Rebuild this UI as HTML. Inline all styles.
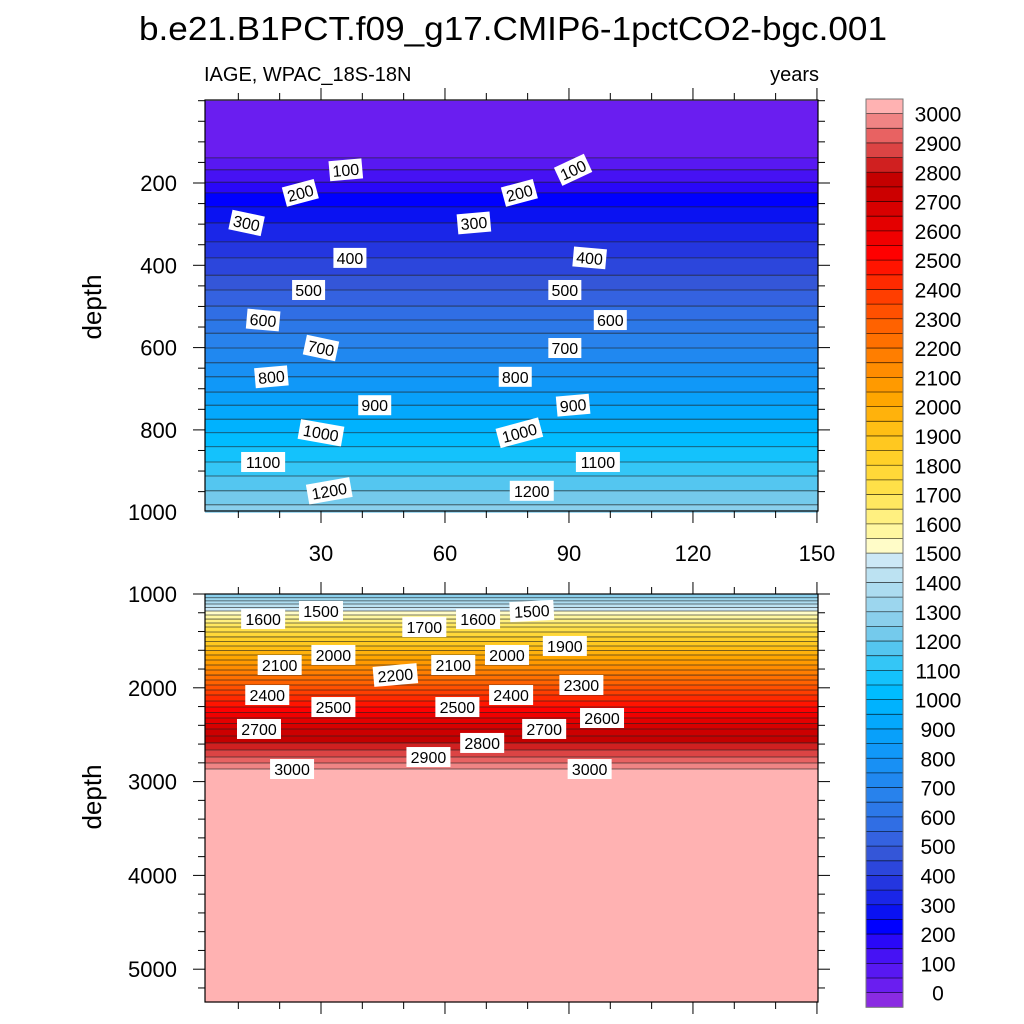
<!DOCTYPE html>
<html><head><meta charset="utf-8"><style>
html,body{margin:0;padding:0;background:#fff;}
svg{display:block;font-family:"Liberation Sans",sans-serif;}
</style></head><body>
<svg id="chart" width="1024" height="1024" viewBox="0 0 1024 1024" xmlns="http://www.w3.org/2000/svg">
<text x="513" y="40" font-size="33" text-anchor="middle" textLength="748" lengthAdjust="spacingAndGlyphs">b.e21.B1PCT.f09_g17.CMIP6-1pctCO2-bgc.001</text>
<text x="204" y="81" font-size="20">IAGE, WPAC_18S-18N</text>
<text x="819" y="81" font-size="20" text-anchor="end">years</text>
<text transform="translate(101,307) rotate(-90)" font-size="26" text-anchor="middle">depth</text>
<text transform="translate(101,797) rotate(-90)" font-size="26" text-anchor="middle">depth</text>
<g id="top"></g>
<g id="bot"></g>
<g id="cbar"></g>
</svg>
<script>
// ---- data ----
const profileDepths = [0,139,168,198,224,258,297,343,382,424,460,499,533,565,601,637,671,708,740,774,807,841,878,912,948,982,1040,1107,1181,1267,1352,1458,1554,1650,1757,1864,1970,2077,2205,2322,2439,2588,2738,2866,5400];
const profileAges   = [20,50,100,150,200,250,300,350,400,450,500,550,600,650,700,750,800,850,900,950,1000,1050,1100,1150,1200,1250,1300,1400,1500,1600,1700,1800,1900,2000,2100,2200,2300,2400,2500,2600,2700,2800,2900,3000,3040];
const levelColors = ["#8a2be2","#6a1ef0","#5818f2","#4612f4","#2a08f8","#0000ff","#0a12f2","#1a26e8","#2436e0","#2c46dc","#3456d8","#3462e0","#306ee4","#2c78e8","#2882ec","#2088f0","#1890f4","#1098f8","#08a0fa","#04a8fc","#00b2fe","#00bcff","#14c2fc","#34c6f6","#54c6f0","#74caec","#8acfec","#9cd6ee","#acdcf0","#bce2f2","#cce8f6","#fffcc8","#fff7a0","#fff080","#ffe860","#ffe048","#ffd838","#ffd028","#ffc820","#ffbe14","#ffb20c","#ffa600","#ff9a00","#ff8c00","#ff7e00","#ff7000","#ff6200","#ff5000","#ff3e00","#ff2a00","#ff1400","#ff0000","#f00000","#e40000","#d80000","#cc0000","#c40000","#d02020","#dc4444","#e86262","#f08484","#ffb2b2"];
const labelValues = [100,200,300,300,200,100,400,400,500,500,600,600,700,700,800,800,900,900,1000,1000,1100,1100,1200,1200,
  1500,1500,1600,1600,1700,1900,2000,2000,2100,2100,2200,2300,2400,2400,2500,2500,2600,2700,2700,2800,2900,3000,3000];
const labelYears = [36,25,12,67,78,91,37,95,27,89,16,100,30,89,18,77,43,91,30,78,16,97,32,81,
  30,81,16,68,55,89,33,75,20,62,48,93,17,76,33,63,98,15,84,69,56,23,95];
const labelAngles = [-5,-15,12,-5,-15,-25,0,5,0,0,5,0,12,0,-5,0,0,-5,10,-15,0,0,-10,0,
  0,-3,0,0,0,0,0,0,0,0,-5,0,0,0,0,0,0,0,0,0,0,0,0];
const xTicksMajor = [30,60,90,120,150];
const topYTicks = [200,400,600,800,1000];
const botYTicks = [1000,2000,3000,4000,5000];

// ---- scales ----
const X0=205,X1=818;
const xS = yr => 197 + 4.133*yr;
const panels = [
  {g:'top', y0:100, y1:511, d0:0, d1:1000, yS:d=>100.7+0.4115*d, ticks:topYTicks, minor:50},
  {g:'bot', y0:594, y1:1002, d0:1000, d1:5350, yS:d=>594+0.0938*(d-1000), ticks:botYTicks, minor:200}
];
const NS='http://www.w3.org/2000/svg';
function mk(tag, attrs, parent){const e=document.createElementNS(NS,tag);for(const k in attrs)e.setAttribute(k,attrs[k]);parent.appendChild(e);return e;}
function depthOfAge(a){
  if(a<=profileAges[0])return -1e9;
  if(a>=profileAges[profileAges.length-1])return 1e9;
  for(let i=1;i<profileAges.length;i++){if(a<=profileAges[i]){const t=(a-profileAges[i-1])/(profileAges[i]-profileAges[i-1]);return profileDepths[i-1]+t*(profileDepths[i]-profileDepths[i-1]);}}
}
panels.forEach((p,pi)=>{
  const g=document.getElementById(p.g);
  for(let k=0;k<levelColors.length;k++){
    const lo = k===0? -1e9 : depthOfAge(50*(k-1));
    const hi = k===levelColors.length-1? 1e9 : depthOfAge(50*k);
    const a=Math.max(lo,p.d0), b=Math.min(hi,p.d1);
    if(b<=a)continue;
    const r=mk('rect',{x:X0,y:p.yS(a),width:X1-X0,height:p.yS(b)-p.yS(a)+0.6,fill:levelColors[k]},g);
    
    
  }
  for(let lv=50;lv<=3000;lv+=50){
    const d=depthOfAge(lv);
    if(d<=p.d0||d>=p.d1)continue;
    const y=p.yS(d);
    const l=mk('line',{x1:X0,x2:X1,y1:y,y2:y,stroke:'#222',"stroke-width":0.8,"stroke-opacity":0.8},g);
    
    
  }
  const fr=mk('rect',{x:X0,y:p.y0,width:X1-X0,height:p.y1-p.y0,fill:'none',stroke:'#000',"stroke-width":1.2},g);
  
  
  for(let yr=10;yr<=150;yr+=10){
    const x=xS(yr); if(x<X0||x>X1)continue;
    const len=(yr%30===0)?12:7;
    const t1=mk('line',{x1:x,x2:x,y1:p.y0,y2:p.y0-len,stroke:'#000',"stroke-width":1},g);
    
    
    const t2=mk('line',{x1:x,x2:x,y1:p.y1,y2:p.y1+len,stroke:'#000',"stroke-width":1},g);
    
    
  }
  if(pi===0){
    xTicksMajor.forEach(v=>{
      const t=mk('text',{x:xS(v),y:561,"font-size":22,"text-anchor":"middle"},g);
      t.textContent=v;
      
      
    });
  }
  for(let d=Math.ceil(p.d0/p.minor)*p.minor; d<=p.d1; d+=p.minor){
    const y=p.yS(d); if(y<p.y0-0.5||y>p.y1+0.5)continue;
    const major=p.ticks.includes(d);
    const len=major?12:7;
    const a=mk('line',{x1:X0,x2:X0-len,y1:y,y2:y,stroke:'#000',"stroke-width":1},g);
    
    
    const b=mk('line',{x1:X1,x2:X1+len,y1:y,y2:y,stroke:'#000',"stroke-width":1},g);
    
    
  }
  p.ticks.forEach(v=>{
    const t=mk('text',{x:177,y:p.yS(v)+8,"font-size":22,"text-anchor":"end"},g);
    t.textContent=v;
    
    
  });
  labelValues.forEach((v,i)=>{
    const d=depthOfAge(v);
    if(d<p.d0||d>p.d1)return;
    const x=xS(labelYears[i]), y=p.yS(d);
    const w=v>=1000?44:33;
    const lg=mk('g',{transform:`translate(${x},${y}) rotate(${labelAngles[i]})`},g);
    
    
    mk('rect',{x:-w/2,y:-10,width:w,height:20,fill:'#fff'},lg);
    const t=mk('text',{x:0,y:6,"font-size":16,"text-anchor":"middle"},lg);
    t.textContent=v;
  });
});
(function(){
  const g=document.getElementById('cbar');
  const top=99,h=14.65,n=levelColors.length;
  for(let k=0;k<n;k++){
    const y=top+(n-1-k)*h;
    const r=mk('rect',{x:866,y:y,width:37,height:h+0.3,fill:levelColors[k]},g);
    
    
  }
  for(let k=1;k<n;k++){
    const y=top+(n-k)*h;
    const l=mk('line',{x1:866,x2:903,y1:y,y2:y,stroke:'#000',"stroke-width":0.8,"stroke-opacity":0.7},g);
    
    
    const lv=50*(k-1);
    if(lv%100===0){
      const t=mk('text',{x:938,y:y+8,"font-size":21,"text-anchor":"middle"},g);
      t.textContent=lv;
      
      
    }
  }
  const f=mk('rect',{x:866,y:top,width:37,height:n*h,fill:'none',stroke:'#777',"stroke-width":1},g);
  
  
})();
</script>
</body></html>
